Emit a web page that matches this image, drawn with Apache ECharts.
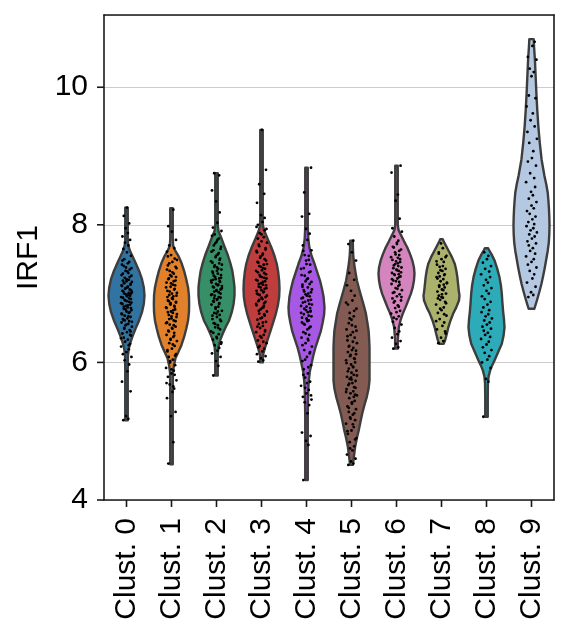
<!DOCTYPE html>
<html>
<head>
<meta charset="utf-8">
<script src="https://cdn.jsdelivr.net/npm/echarts@6/dist/echarts.min.js"></script>
<style>
  html, body { margin: 0; padding: 0; background: #fff; }
  #chart { width: 569px; height: 639px; }
</style>
</head>
<body>
<div id="chart"></div>
<script>
const clusters = ['Clust. 0', 'Clust. 1', 'Clust. 2', 'Clust. 3', 'Clust. 4',
  'Clust. 5', 'Clust. 6', 'Clust. 7', 'Clust. 8', 'Clust. 9']
const colors = ['#3274a1', '#e1812c', '#368f67', '#c03d3e', '#a758e4',
  '#845b53', '#d585bd', '#acb16c', '#2eabb8', '#b5c8e1']
const yTicks = [4, 6, 8, 10]

// violin outlines: [IRF1 value, relative density width]
const violin0 = [[5.16, 0.07], [5.9, 0.07], [6.10, 0.08], [6.20, 0.13], [6.29, 0.22], [6.39, 0.35], [6.49, 0.5], [6.61, 0.7], [6.73, 0.86], [6.85, 0.96], [6.97, 1.0], [7.09, 0.96], [7.21, 0.86], [7.33, 0.7], [7.45, 0.5], [7.55, 0.32], [7.63, 0.18], [7.70, 0.1], [7.78, 0.07], [8.25, 0.07]]
const violin1 = [[4.52, 0.07], [5.5, 0.07], [5.85, 0.08], [5.95, 0.13], [6.06, 0.22], [6.15, 0.38], [6.25, 0.55], [6.37, 0.7], [6.49, 0.82], [6.61, 0.92], [6.73, 0.97], [6.85, 0.98], [6.97, 0.97], [7.09, 0.92], [7.21, 0.82], [7.33, 0.7], [7.45, 0.55], [7.55, 0.38], [7.63, 0.2], [7.70, 0.09], [7.8, 0.07], [8.24, 0.07]]
const violin2 = [[5.81, 0.07], [6.10, 0.07], [6.22, 0.1], [6.32, 0.2], [6.42, 0.35], [6.52, 0.52], [6.61, 0.7], [6.73, 0.85], [6.85, 0.95], [6.97, 1.0], [7.09, 1.0], [7.21, 0.95], [7.33, 0.88], [7.45, 0.76], [7.58, 0.6], [7.70, 0.42], [7.82, 0.25], [7.91, 0.11], [8.0, 0.07], [8.75, 0.07]]
const violin3 = [[6.0, 0.07], [6.10, 0.08], [6.22, 0.2], [6.34, 0.35], [6.46, 0.5], [6.59, 0.66], [6.71, 0.8], [6.83, 0.91], [6.95, 0.98], [7.07, 1.0], [7.19, 0.98], [7.31, 0.93], [7.43, 0.85], [7.55, 0.72], [7.67, 0.55], [7.79, 0.35], [7.91, 0.16], [7.99, 0.08], [8.1, 0.07], [9.38, 0.07]]
const violin4 = [[4.29, 0.07], [5.2, 0.07], [5.40, 0.08], [5.62, 0.1], [5.74, 0.13], [5.86, 0.18], [5.98, 0.28], [6.10, 0.38], [6.22, 0.5], [6.34, 0.65], [6.46, 0.8], [6.58, 0.9], [6.70, 0.98], [6.80, 1.0], [6.95, 0.95], [7.07, 0.86], [7.19, 0.75], [7.31, 0.6], [7.43, 0.45], [7.55, 0.28], [7.67, 0.16], [7.80, 0.1], [7.91, 0.08], [8.0, 0.07], [8.83, 0.07]]
const violin5 = [[4.51, 0.08], [4.60, 0.12], [4.77, 0.2], [4.90, 0.3], [5.01, 0.4], [5.14, 0.5], [5.26, 0.6], [5.38, 0.72], [5.50, 0.85], [5.62, 0.95], [5.74, 1.0], [5.98, 1.0], [6.22, 1.0], [6.34, 0.98], [6.46, 0.95], [6.58, 0.88], [6.71, 0.8], [6.83, 0.68], [6.95, 0.55], [7.07, 0.42], [7.19, 0.3], [7.31, 0.22], [7.43, 0.15], [7.55, 0.1], [7.65, 0.08], [7.77, 0.07]]
const violin6 = [[6.20, 0.07], [6.35, 0.08], [6.51, 0.13], [6.61, 0.22], [6.71, 0.35], [6.80, 0.5], [6.90, 0.65], [7.00, 0.8], [7.09, 0.9], [7.19, 0.97], [7.29, 1.0], [7.38, 0.97], [7.48, 0.88], [7.57, 0.76], [7.67, 0.6], [7.76, 0.42], [7.85, 0.25], [7.93, 0.11], [8.0, 0.07], [8.86, 0.07]]
const violin7 = [[6.27, 0.12], [6.32, 0.2], [6.42, 0.3], [6.51, 0.38], [6.61, 0.5], [6.71, 0.65], [6.80, 0.82], [6.90, 0.97], [6.97, 1.0], [7.04, 0.96], [7.14, 0.92], [7.24, 0.88], [7.34, 0.82], [7.43, 0.74], [7.53, 0.58], [7.62, 0.4], [7.70, 0.24], [7.76, 0.12], [7.79, 0.07]]
const violin8 = [[5.21, 0.07], [5.5, 0.07], [5.69, 0.08], [5.80, 0.12], [5.88, 0.2], [5.96, 0.32], [6.03, 0.45], [6.15, 0.65], [6.27, 0.85], [6.39, 0.95], [6.51, 1.0], [6.63, 0.97], [6.75, 0.92], [6.88, 0.88], [7.0, 0.85], [7.12, 0.8], [7.24, 0.72], [7.36, 0.6], [7.48, 0.45], [7.57, 0.28], [7.63, 0.15], [7.66, 0.09]]
const violin9 = [[6.78, 0.16], [6.90, 0.3], [7.02, 0.43], [7.14, 0.55], [7.26, 0.65], [7.38, 0.74], [7.50, 0.82], [7.62, 0.9], [7.74, 0.96], [7.87, 0.99], [7.99, 1.0], [8.11, 0.99], [8.23, 0.97], [8.35, 0.94], [8.47, 0.9], [8.59, 0.82], [8.71, 0.72], [8.83, 0.64], [8.95, 0.56], [9.19, 0.46], [9.43, 0.38], [9.67, 0.32], [9.92, 0.27], [10.16, 0.23], [10.40, 0.19], [10.60, 0.14], [10.70, 0.12]]

// cell values (strip points)
const cells0 = [5.16, 5.18, 5.22, 5.58, 5.72, 5.87, 5.97, 6.03, 6.08, 6.12, 6.15, 6.19, 6.23, 6.27, 6.30, 6.33, 6.36, 6.39, 6.42, 6.44, 6.47, 6.49, 6.52, 6.54, 6.56, 6.58, 6.60, 6.62, 6.64, 6.66, 6.68, 6.70, 6.72, 6.74, 6.76, 6.78, 6.80, 6.82, 6.84, 6.86, 6.88, 6.90, 6.92, 6.94, 6.96, 6.98, 7.00, 7.02, 7.04, 7.06, 7.08, 7.10, 7.12, 7.14, 7.16, 7.18, 7.20, 7.23, 7.26, 7.29, 7.32, 7.35, 7.38, 7.42, 7.46, 7.50, 7.55, 7.60, 7.65, 7.70, 7.74, 7.78, 7.83, 7.88, 7.95, 8.02, 8.13, 8.25,
  6.25, 6.35, 6.45, 6.50, 6.55, 6.59, 6.63, 6.67, 6.71, 6.73, 6.77, 6.79, 6.81, 6.83, 6.85, 6.87, 6.89, 6.91, 6.93, 6.95, 6.97, 6.99, 7.01, 7.03, 7.05, 7.07, 7.09, 7.11, 7.13, 7.15, 7.17, 7.19, 7.21, 7.24, 7.27, 7.30, 7.33, 7.37, 7.40, 7.44, 7.48, 6.40, 6.61, 6.97, 7.00]
const cells1 = [4.53, 4.84, 5.22, 5.28, 5.48, 5.57, 5.62, 5.68, 5.74, 5.79, 5.84, 5.88, 5.92, 5.96, 6.00, 6.04, 6.08, 6.12, 6.16, 6.20, 6.24, 6.28, 6.31, 6.34, 6.37, 6.40, 6.43, 6.46, 6.49, 6.52, 6.55, 6.58, 6.61, 6.64, 6.66, 6.69, 6.72, 6.74, 6.77, 6.80, 6.82, 6.85, 6.88, 6.90, 6.93, 6.96, 6.98, 7.01, 7.04, 7.07, 7.10, 7.13, 7.16, 7.19, 7.22, 7.25, 7.29, 7.33, 7.37, 7.41, 7.46, 7.51, 7.56, 7.61, 7.66, 7.70, 7.78, 7.90, 7.98, 8.22,
  6.02, 6.10, 6.18, 6.26, 6.33, 6.39, 6.45, 6.50, 6.54, 6.57, 6.60, 6.63, 6.67, 6.70, 6.73, 6.76, 6.79, 6.81, 6.84, 6.87, 6.89, 6.92, 6.95, 6.97, 7.00, 7.03, 7.06, 7.09, 7.12, 7.15, 7.18, 7.21, 7.24, 7.27, 7.31, 7.35, 7.39, 7.44, 7.49, 7.54, 5.90, 5.82, 5.70, 5.65, 6.86]
const cells2 = [5.81, 5.95, 6.02, 6.08, 6.13, 6.17, 6.21, 6.25, 6.29, 6.33, 6.37, 6.41, 6.45, 6.48, 6.51, 6.54, 6.57, 6.60, 6.63, 6.66, 6.69, 6.72, 6.75, 6.78, 6.81, 6.84, 6.86, 6.89, 6.92, 6.94, 6.97, 6.99, 7.02, 7.04, 7.07, 7.09, 7.12, 7.14, 7.17, 7.19, 7.22, 7.24, 7.27, 7.30, 7.33, 7.36, 7.39, 7.42, 7.45, 7.49, 7.53, 7.57, 7.61, 7.65, 7.70, 7.75, 7.80, 7.86, 7.91, 7.96, 8.03, 8.18, 8.34, 8.50, 8.72, 8.75,
  6.27, 6.35, 6.43, 6.50, 6.56, 6.62, 6.68, 6.74, 6.80, 6.85, 6.88, 6.91, 6.95, 6.98, 7.00, 7.03, 7.05, 7.08, 7.10, 7.13, 7.16, 7.18, 7.21, 7.23, 7.26, 7.29, 7.32, 7.35, 7.38, 7.41, 7.44, 7.47, 7.51, 7.55, 7.59, 7.63, 7.68, 7.73, 7.78, 7.84, 7.06, 6.93, 7.11, 7.20, 6.71]
const cells3 = [6.01, 6.03, 6.06, 6.09, 6.12, 6.16, 6.20, 6.24, 6.28, 6.32, 6.36, 6.40, 6.44, 6.47, 6.50, 6.53, 6.56, 6.59, 6.62, 6.65, 6.68, 6.71, 6.74, 6.77, 6.80, 6.83, 6.86, 6.89, 6.92, 6.95, 6.98, 7.00, 7.03, 7.05, 7.08, 7.10, 7.13, 7.15, 7.18, 7.20, 7.23, 7.25, 7.28, 7.31, 7.34, 7.37, 7.40, 7.43, 7.46, 7.50, 7.54, 7.58, 7.62, 7.66, 7.71, 7.76, 7.82, 7.88, 7.94, 8.00, 8.04, 8.10, 8.14, 8.32, 8.45, 8.59, 8.80, 9.38,
  6.22, 6.30, 6.38, 6.45, 6.52, 6.58, 6.64, 6.70, 6.75, 6.79, 6.82, 6.85, 6.88, 6.91, 6.94, 6.97, 6.99, 7.02, 7.04, 7.07, 7.09, 7.12, 7.14, 7.17, 7.19, 7.22, 7.24, 7.27, 7.30, 7.33, 7.36, 7.39, 7.42, 7.45, 7.48, 7.52, 7.56, 7.60, 7.64, 7.69, 7.74, 7.80, 7.86, 7.92, 7.97]
const cells4 = [4.29, 4.80, 4.86, 4.93, 4.98, 5.26, 5.38, 5.42, 5.46, 5.50, 5.55, 5.60, 5.66, 5.72, 5.78, 5.84, 5.90, 5.96, 6.02, 6.08, 6.13, 6.18, 6.23, 6.28, 6.32, 6.36, 6.40, 6.44, 6.48, 6.52, 6.55, 6.58, 6.61, 6.64, 6.67, 6.70, 6.73, 6.76, 6.79, 6.82, 6.85, 6.88, 6.91, 6.94, 6.97, 7.00, 7.03, 7.06, 7.10, 7.14, 7.18, 7.22, 7.27, 7.32, 7.37, 7.43, 7.49, 7.56, 7.63, 7.70, 7.78, 7.87, 7.94, 8.12, 8.16, 8.47, 8.83,
  5.70, 5.82, 5.93, 6.04, 6.15, 6.25, 6.34, 6.42, 6.50, 6.56, 6.62, 6.68, 6.72, 6.75, 6.78, 6.81, 6.84, 6.87, 6.90, 6.93, 6.96, 6.99, 7.02, 7.05, 7.09, 7.13, 7.17, 7.21, 7.26, 7.31, 7.36, 7.42, 7.48, 7.55, 7.62, 5.52, 5.63, 6.60, 6.65, 6.74]
const cells5 = [4.51, 4.53, 4.56, 4.60, 4.66, 4.72, 4.78, 4.84, 4.90, 4.96, 5.01, 5.06, 5.11, 5.16, 5.20, 5.24, 5.28, 5.32, 5.36, 5.40, 5.44, 5.48, 5.52, 5.55, 5.58, 5.61, 5.64, 5.67, 5.70, 5.73, 5.76, 5.79, 5.82, 5.85, 5.88, 5.91, 5.94, 5.97, 6.00, 6.03, 6.06, 6.09, 6.12, 6.15, 6.18, 6.21, 6.24, 6.28, 6.32, 6.36, 6.40, 6.44, 6.48, 6.52, 6.57, 6.62, 6.67, 6.72, 6.78, 6.84, 6.90, 6.97, 7.04, 7.12, 7.20, 7.30, 7.48, 7.60, 7.72, 7.77,
  4.75, 4.88, 5.00, 5.10, 5.18, 5.26, 5.34, 5.42, 5.50, 5.57, 5.63, 5.69, 5.75, 5.81, 5.87, 5.93, 5.99, 6.05, 6.11, 6.17, 6.23, 6.30, 6.38, 6.46, 6.54, 6.64, 6.75, 6.87, 5.53, 5.78]
const cells6 = [6.20, 6.22, 6.27, 6.31, 6.36, 6.41, 6.45, 6.50, 6.55, 6.59, 6.63, 6.67, 6.71, 6.75, 6.79, 6.83, 6.87, 6.90, 6.93, 6.96, 6.99, 7.02, 7.05, 7.08, 7.11, 7.14, 7.17, 7.19, 7.22, 7.25, 7.27, 7.30, 7.33, 7.35, 7.38, 7.41, 7.44, 7.47, 7.50, 7.53, 7.56, 7.60, 7.64, 7.68, 7.72, 7.77, 7.83, 7.90, 7.95, 8.09, 8.35, 8.44, 8.76, 8.86,
  6.65, 6.73, 6.81, 6.89, 6.95, 7.01, 7.07, 7.13, 7.18, 7.21, 7.24, 7.28, 7.31, 7.34, 7.37, 7.40, 7.43, 7.46, 7.49, 7.52, 7.57, 7.62, 7.67, 7.74, 7.28]
const cells7 = [6.28, 6.31, 6.36, 6.42, 6.48, 6.53, 6.58, 6.63, 6.68, 6.72, 6.76, 6.80, 6.84, 6.88, 6.91, 6.94, 6.97, 7.00, 7.03, 7.06, 7.09, 7.12, 7.15, 7.18, 7.21, 7.24, 7.27, 7.30, 7.33, 7.36, 7.39, 7.42, 7.46, 7.50, 7.55, 7.60, 7.66, 7.73,
  6.45, 6.60, 6.70, 6.78, 6.86, 6.93, 6.99, 7.05, 7.10, 7.16, 7.22, 7.28, 7.34, 7.40, 7.47, 7.53, 7.58, 6.95, 7.13, 7.25]
const cells8 = [5.21, 5.72, 5.76, 5.92, 6.00, 6.04, 6.09, 6.14, 6.18, 6.22, 6.26, 6.30, 6.34, 6.37, 6.40, 6.43, 6.46, 6.49, 6.52, 6.55, 6.58, 6.61, 6.64, 6.67, 6.70, 6.73, 6.76, 6.80, 6.84, 6.88, 6.92, 6.96, 7.00, 7.04, 7.08, 7.12, 7.16, 7.20, 7.24, 7.28, 7.32, 7.36, 7.40, 7.45, 7.50, 7.55, 7.60]
const cells9 = [6.95, 6.98, 7.02, 7.10, 7.16, 7.22, 7.28, 7.33, 7.38, 7.42, 7.46, 7.50, 7.54, 7.58, 7.62, 7.66, 7.70, 7.73, 7.76, 7.80, 7.83, 7.86, 7.89, 7.92, 7.95, 7.98, 8.01, 8.04, 8.08, 8.12, 8.16, 8.20, 8.24, 8.28, 8.33, 8.38, 8.43, 8.48, 8.55, 8.62, 8.68, 8.75, 8.86, 8.92, 8.97, 9.07, 9.19, 9.25, 9.35, 9.43, 9.52, 9.62, 9.72, 9.84, 9.88, 10.16, 10.22, 10.27, 10.40, 10.44, 10.60, 10.66]

// horizontal jitter of the strip points, in category widths
const jitter = [-0.07, 0.04, -0.01, 0.09, -0.10, 0.02, 0.06, -0.04, 0.11, -0.08,
  0.00, 0.05, -0.12, 0.08, -0.03, 0.03, -0.06, 0.10, -0.09, 0.01,
  0.07, -0.05, 0.12, -0.02, 0.04, -0.11, 0.06, -0.07, 0.02, 0.09,
  -0.04, -0.10, 0.05, 0.00, 0.11, -0.06, 0.03, -0.01, 0.08, -0.12,
  0.06, -0.03, 0.10, -0.08, 0.01, 0.04, -0.05, 0.12, -0.09, 0.07,
  -0.02, 0.03, -0.11, 0.09, -0.06, 0.00, 0.05, -0.04, 0.11, -0.08,
  0.02, 0.07, -0.01, -0.10, 0.06, -0.05, 0.10, 0.01, -0.07, 0.04,
  -0.03, 0.08, -0.09, 0.03, -0.02, 0.06, -0.06, 0.01, 0.05, -0.12,
  0.09, -0.05, 0.00, 0.12, -0.08, 0.04, -0.11, 0.07, -0.02, 0.10,
  -0.06, 0.03, -0.09, 0.11, 0.01, -0.04, 0.06, -0.12, 0.08, -0.01,
  0.05, -0.07, 0.10, -0.03, 0.02, -0.10, 0.09, -0.05, 0.12, -0.08,
  0.00, 0.07, -0.11, 0.04, -0.02, 0.11, -0.06, 0.03, -0.09, 0.08,
  -0.04, 0.01, 0.10, -0.12, 0.06, -0.01, 0.05, -0.07, 0.02, -0.10]

const violins = [violin0, violin1, violin2, violin3, violin4, violin5, violin6, violin7, violin8, violin9]
const cells = [cells0, cells1, cells2, cells3, cells4, cells5, cells6, cells7, cells8, cells9]

const violinData = violins.map((v, i) => [i, v[0][0]])
const pointData = []
cells.forEach((list, i) => list.forEach((y, j) => pointData.push([i, y, jitter[j]])))
// tick marks: [category, value, 0 = y tick / 1 = x tick]
const tickData = yTicks.map(v => [0, v, 0]).concat(clusters.map((c, i) => [i, yTicks[0], 1]))

function renderViolin(params, api) {
  const i = api.value(0)
  const prof = violins[i]
  const half = api.size([1, 0])[0] * 0.4
  const cx = api.coord([i, prof[0][0]])[0]
  const right = prof.map(([v, w]) => [cx + w * half, api.coord([i, v])[1]])
  const left = prof.slice().reverse().map(([v, w]) => [cx - w * half, api.coord([i, v])[1]])
  return {
    type: 'polygon',
    shape: { points: right.concat(left) },
    style: { fill: colors[i], stroke: '#3d3d3d', lineWidth: 2.4, lineJoin: 'round' },
  }
}

function renderPoint(params, api) {
  const p = api.coord([api.value(0), api.value(1)])
  const bw = api.size([1, 0])[0]
  return {
    type: 'circle',
    shape: { cx: p[0] + api.value(2) * bw, cy: p[1], r: 1.4 },
    style: { fill: '#000' },
  }
}

function renderTick(params, api) {
  const p = api.coord([api.value(0), api.value(1)])
  const style = { stroke: '#1a1a1a', lineWidth: 1.6 }
  if (api.value(2) === 0) {
    const x0 = p[0] - api.size([1, 0])[0] / 2
    return { type: 'line', shape: { x1: x0 - 7, y1: p[1], x2: x0, y2: p[1] }, style }
  }
  return { type: 'line', shape: { x1: p[0], y1: p[1], x2: p[0], y2: p[1] + 7 }, style }
}

const font = "'Liberation Sans', Arial, sans-serif"
const spine = { show: true, lineStyle: { color: '#1a1a1a', width: 1.6 } }
const chart = echarts.init(document.getElementById('chart'))
chart.setOption({
  animation: false,
  grid: { left: 104, right: 15, top: 15, bottom: 139 },
  xAxis: [
    {
      type: 'category',
      data: clusters,
      axisLine: spine,
      axisTick: { show: false },
      axisLabel: { rotate: 90, margin: 18, fontSize: 30, color: '#000', fontFamily: font },
    },
    {
      type: 'category',
      data: clusters,
      position: 'top',
      axisLine: spine,
      axisTick: { show: false },
      axisLabel: { show: false },
    },
  ],
  yAxis: [
    {
      type: 'value',
      min: 4,
      max: 11.05,
      interval: 2,
      name: 'IRF1',
      nameLocation: 'middle',
      nameRotate: 90,
      nameGap: 58,
      nameTextStyle: { fontSize: 30, color: '#000', fontFamily: font },
      axisLine: spine,
      axisTick: { show: false },
      axisLabel: { margin: 16, fontSize: 30, color: '#000', fontFamily: font, showMaxLabel: false },
      splitLine: { lineStyle: { color: '#cccccc', width: 1.2 } },
    },
    {
      type: 'value',
      min: 4,
      max: 11.05,
      position: 'right',
      axisLine: spine,
      axisTick: { show: false },
      axisLabel: { show: false },
      splitLine: { show: false },
    },
  ],
  series: [
    {
      type: 'custom',
      z: 1,
      silent: true,
      renderItem: renderViolin,
      encode: { x: 0, y: 1 },
      data: violinData,
    },
    {
      type: 'custom',
      z: 3,
      silent: true,
      renderItem: renderPoint,
      encode: { x: 0, y: 1 },
      data: pointData,
    },
    {
      type: 'custom',
      z: 4,
      silent: true,
      clip: false,
      renderItem: renderTick,
      encode: { x: 0, y: 1 },
      data: tickData,
    },
  ],
})
</script>
</body>
</html>
